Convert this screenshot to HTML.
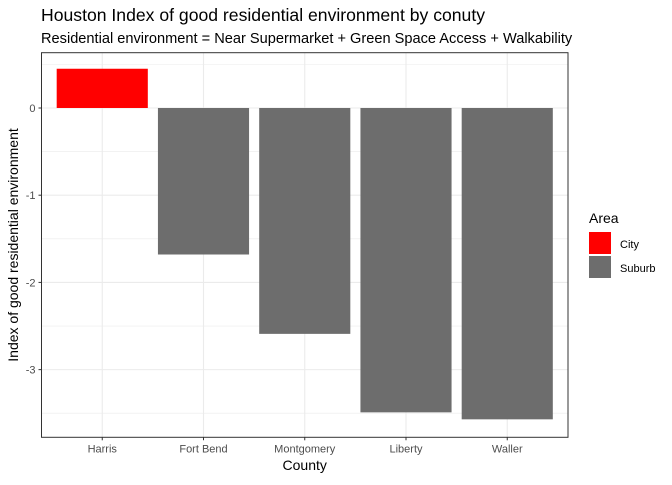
<!DOCTYPE html>
<html><head><meta charset="utf-8"><style>
body{margin:0;background:#fff;font-family:"Liberation Sans",sans-serif;}
</style></head><body>
<svg id="chart" width="672" height="480" xmlns="http://www.w3.org/2000/svg" font-family="Liberation Sans, sans-serif">
<text x="41" y="21" font-size="17.6" fill="#000">Houston Index of good residential environment by conuty</text>
<text x="41" y="43" font-size="14.6" fill="#000">Residential environment = Near Supermarket + Green Space Access + Walkability</text>
<g id="grid"></g>
<g id="bars"></g>
<rect x="41.5" y="52.7" width="526.5" height="384.6" fill="none" stroke="#333" stroke-width="1"/>
<g id="axes"></g>
<text x="304.7" y="470" font-size="14" text-anchor="middle">County</text>
<text transform="translate(18,245) rotate(-90)" font-size="14" text-anchor="middle">Index of good residential environment</text>
<g>
<text x="589" y="223" font-size="14">Area</text>
<rect x="589" y="232" width="22" height="22" fill="#ff0000"/>
<text x="620" y="248" font-size="11">City</text>
<rect x="589" y="256" width="22" height="22" fill="#6d6d6d"/>
<text x="620" y="272" font-size="11">Suburb</text>
</g>
</svg>
<script>
const categories=["Harris","Fort Bend","Montgomery","Liberty","Waller"];
const values=[0.45,-1.68,-2.59,-3.49,-3.57];
const areas=["City","Suburb","Suburb","Suburb","Suburb"];
const yTicks=[0,-1,-2,-3];
const NS="http://www.w3.org/2000/svg";
const L=41.5,R=568,T=52.7,B=437.3,yMax=0.634,yMin=-3.776;
const band=(R-L)/(categories.length-1+1.2);
const x=i=>L+(0.6+i)*band;
const y=v=>T+(yMax-v)/(yMax-yMin)*(B-T);
function mk(tag,attrs,parent){const e=document.createElementNS(NS,tag);for(const k in attrs)e.setAttribute(k,attrs[k]);parent.appendChild(e);return e;}
const grid=document.getElementById('grid'),bars=document.getElementById('bars'),axes=document.getElementById('axes');
for(let v=Math.ceil(yMin*2)/2;v<=yMax;v+=0.5){
  const g=mk('line',{x1:L,x2:R,y1:y(v),y2:y(v),stroke:'#ebebeb','stroke-width':Number.isInteger(v)?1.1:0.6},grid);
  
  
}
categories.forEach((c,i)=>{
  const g=mk('line',{x1:x(i),x2:x(i),y1:T,y2:B,stroke:'#ebebeb','stroke-width':1.1},grid);
  
  
  const w=band*0.9,v=values[i];
  const b=mk('rect',{x:x(i)-w/2,y:Math.min(y(v),y(0)),width:w,height:Math.abs(y(v)-y(0)),fill:areas[i]==='City'?'#ff0000':'#6d6d6d'},bars);
  
  
  const t=mk('line',{x1:x(i),x2:x(i),y1:B,y2:B+3,stroke:'#333'},axes);
  
  
  const lb=mk('text',{x:x(i),y:B+15,'font-size':11,fill:'#4d4d4d','text-anchor':'middle'},axes);
  lb.textContent=c;
  
  
});
yTicks.forEach(v=>{
  const t=mk('line',{x1:L-3,x2:L,y1:y(v),y2:y(v),stroke:'#333'},axes);
  
  
  const lb=mk('text',{x:L-6,y:y(v)+4,'font-size':11,fill:'#4d4d4d','text-anchor':'end'},axes);
  lb.textContent=v;
  
  
});
</script>
</body></html>
